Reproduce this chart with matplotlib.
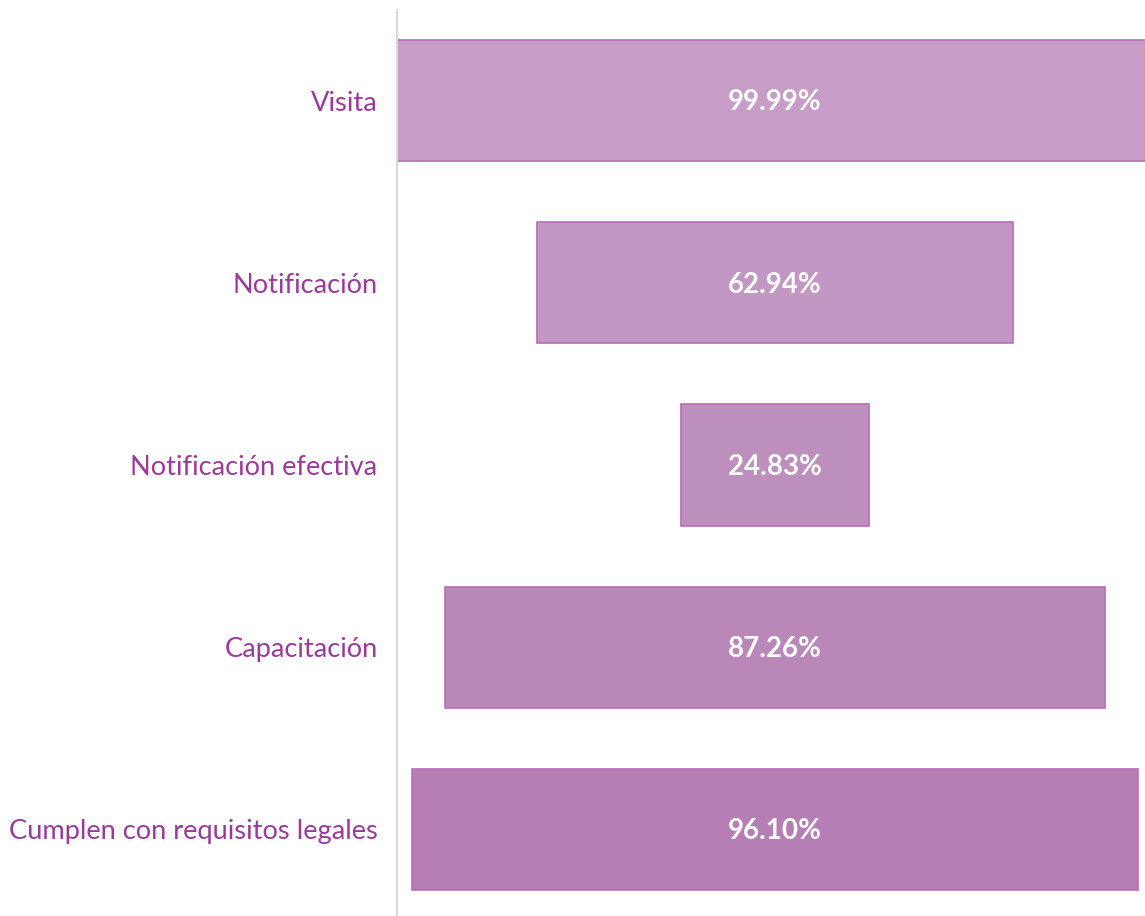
import matplotlib
matplotlib.use('Agg')
import matplotlib.pyplot as plt

# etapas del embudo y porcentajes
stages = ['Visita', 'Notificación', 'Notificación efectiva', 'Capacitación',
          'Cumplen con requisitos legales']
values = [99.99, 62.94, 24.83, 87.26, 96.10]
colors = ['#c79dc8', '#c297c3', '#bd8fbd', '#b988b9', '#b57fb5']

plt.rcParams['font.family'] = ['Lato', 'DejaVu Sans']

fig = plt.figure(figsize=(11.45, 9.16), dpi=100)
ax = fig.add_axes([397 / 1145, 0, 1 - 397 / 1145, 1 - 10 / 916])

ypos = list(range(len(stages)))
lefts = [(100 - v) / 2 for v in values]
ax.barh(ypos, values, left=lefts, height=0.665, color=colors,
        edgecolor='#b96db9', linewidth=1.2)

for y, l, v in zip(ypos, lefts, values):
    ax.text(50, y + 0.01, '%.2f%%' % v, ha='center', va='center', color='white',
            fontsize=20, fontweight='bold')

ax.set_xlim(0, 98.94)
ax.set_ylim(4.475, -0.497)
ax.set_yticks(ypos)
ax.set_yticklabels(stages, fontsize=19.6, color='#9b3a9b')
ax.tick_params(axis='y', length=0, pad=14)
ax.set_xticks([])
for s in ['top', 'right', 'bottom']:
    ax.spines[s].set_visible(False)
ax.spines['left'].set_color('#d9d9d9')
ax.spines['left'].set_linewidth(1.5)

fig.savefig('out.png', dpi=100)
